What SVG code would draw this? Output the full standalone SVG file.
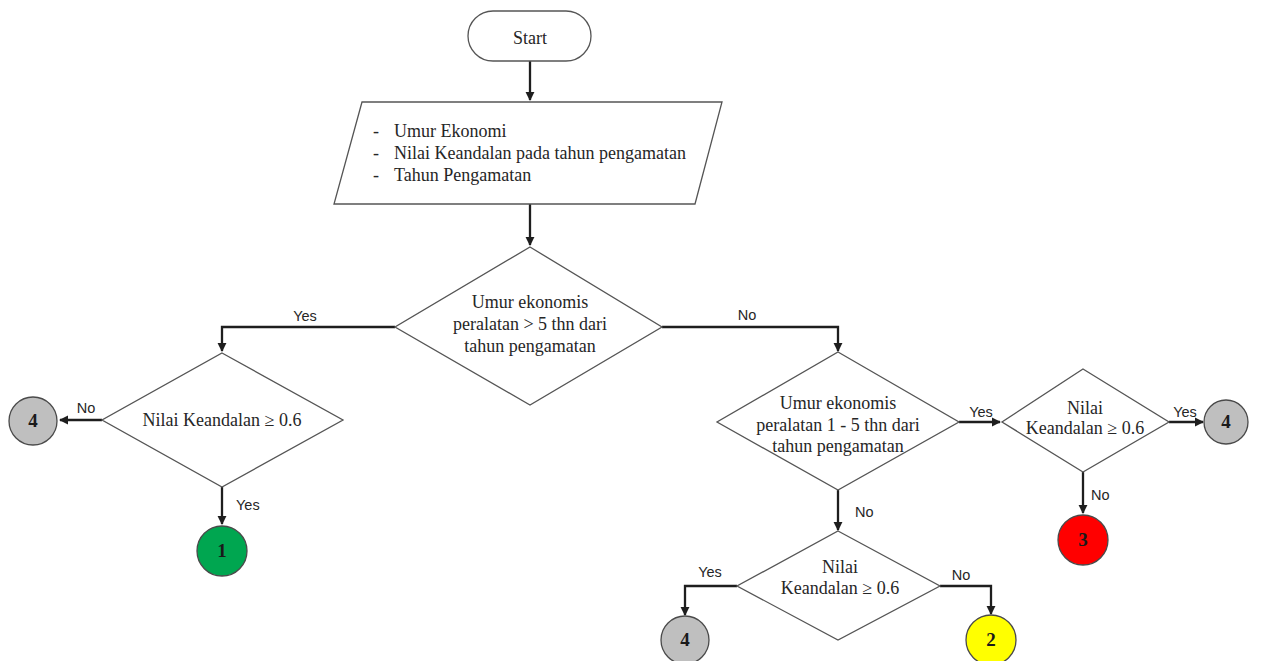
<svg xmlns="http://www.w3.org/2000/svg" width="1265" height="661" viewBox="0 0 1265 661">
  <style>
    .shape { fill: #ffffff; stroke: #555555; stroke-width: 1.3; }
    .txt { font-family: "Liberation Serif", "Times New Roman", serif; font-size: 18px; fill: #262626; }
    .mid { text-anchor: middle; }
    .lbl { font-family: "Liberation Sans", Arial, sans-serif; font-size: 14.5px; fill: #262626; }
    .conn { fill: none; stroke: #1e1e1e; stroke-width: 2.3; }
    .circ { stroke: #4a4a4a; stroke-width: 1.3; }
    .num { font-family: "Liberation Serif", "Times New Roman", serif; font-size: 19px; font-weight: bold; fill: #1a1a1a; text-anchor: middle; }
  </style>
  <defs>
    <marker id="arrow" viewBox="0 0 10 10" refX="9" refY="5" markerWidth="4" markerHeight="4" markerUnits="strokeWidth" orient="auto">
      <path d="M0,0 L10,5 L0,10 z" fill="#1e1e1e"/>
    </marker>
  </defs>
  <rect width="1265" height="661" fill="#ffffff"/>

  <!-- connectors -->
  <g id="connectors">
    <path class="conn" d="M530,61 V100" marker-end="url(#arrow)"/>
    <path class="conn" d="M530,204 V245" marker-end="url(#arrow)"/>
    <path class="conn" d="M395,327 H222 V351" marker-end="url(#arrow)"/>
    <path class="conn" d="M662,327 H838 V351" marker-end="url(#arrow)"/>
    <path class="conn" d="M102,420 H60" marker-end="url(#arrow)"/>
    <path class="conn" d="M222,487 V524" marker-end="url(#arrow)"/>
    <path class="conn" d="M959,422 H1000" marker-end="url(#arrow)"/>
    <path class="conn" d="M1169,422 H1203" marker-end="url(#arrow)"/>
    <path class="conn" d="M1083,472 V513" marker-end="url(#arrow)"/>
    <path class="conn" d="M838,490 V530" marker-end="url(#arrow)"/>
    <path class="conn" d="M737,586 H685 V615" marker-end="url(#arrow)"/>
    <path class="conn" d="M940,586 H991 V614" marker-end="url(#arrow)"/>
    <text class="lbl mid" x="305" y="321">Yes</text>
    <text class="lbl mid" x="747" y="320">No</text>
    <text class="lbl mid" x="86" y="413">No</text>
    <text class="lbl" x="236" y="510">Yes</text>
    <text class="lbl mid" x="981" y="417">Yes</text>
    <text class="lbl mid" x="1185" y="417">Yes</text>
    <text class="lbl" x="1091" y="500">No</text>
    <text class="lbl" x="855" y="517">No</text>
    <text class="lbl mid" x="710" y="577">Yes</text>
    <text class="lbl mid" x="961" y="580">No</text>
  </g>

  <!-- start terminal -->
  <g id="start">
    <rect class="shape" x="468" y="11" width="123" height="50" rx="25" ry="25"/>
    <text class="txt mid" x="530" y="44">Start</text>
  </g>

  <!-- input data -->
  <g id="input">
    <polygon class="shape" points="362,102 722,102 695,204 334,204"/>
    <text class="txt" x="373" y="137">-</text>
    <text class="txt" x="394" y="137">Umur Ekonomi</text>
    <text class="txt" x="373" y="159">-</text>
    <text class="txt" x="394" y="159">Nilai Keandalan pada tahun pengamatan</text>
    <text class="txt" x="373" y="181">-</text>
    <text class="txt" x="394" y="181">Tahun Pengamatan</text>
  </g>

  <!-- decision: age > 5 years -->
  <g id="decision-age-gt5">
    <polygon class="shape" points="530,247 662,327 530,405 395,327"/>
    <text class="txt mid" x="530" y="308">Umur ekonomis</text>
    <text class="txt mid" x="530" y="330">peralatan &gt; 5 thn dari</text>
    <text class="txt mid" x="530" y="352">tahun pengamatan</text>
  </g>

  <!-- decision: reliability (left branch) -->
  <g id="decision-rel-left">
    <polygon class="shape" points="222,353 343,420 222,487 102,420"/>
    <text class="txt mid" x="222" y="426">Nilai Keandalan ≥ 0.6</text>
  </g>

  <!-- decision: age 1-5 years -->
  <g id="decision-age-1to5">
    <polygon class="shape" points="838,352 959,422 838,490 717,422"/>
    <text class="txt mid" x="838" y="409">Umur ekonomis</text>
    <text class="txt mid" x="838" y="431">peralatan 1 - 5 thn dari</text>
    <text class="txt mid" x="838" y="452">tahun pengamatan</text>
  </g>

  <!-- decision: reliability (right branch) -->
  <g id="decision-rel-right">
    <polygon class="shape" points="1083,369 1169,422 1083,472 1002,422"/>
    <text class="txt mid" x="1085" y="414">Nilai</text>
    <text class="txt mid" x="1085" y="434">Keandalan ≥ 0.6</text>
  </g>

  <!-- decision: reliability (bottom branch) -->
  <g id="decision-rel-bottom">
    <polygon class="shape" points="838,531 940,586 838,640 737,586"/>
    <text class="txt mid" x="840" y="573">Nilai</text>
    <text class="txt mid" x="840" y="594">Keandalan ≥ 0.6</text>
  </g>

  <!-- outcome connectors -->
  <g id="out-4-left">
    <circle class="circ" cx="33" cy="421" r="24" fill="#bfbfbf"/>
    <text class="num" x="33" y="427">4</text>
  </g>
  <g id="out-1">
    <circle class="circ" cx="222" cy="551" r="25" fill="#00a650"/>
    <text class="num" x="222" y="557">1</text>
  </g>
  <g id="out-4-right">
    <circle class="circ" cx="1226" cy="422" r="22" fill="#bfbfbf"/>
    <text class="num" x="1226" y="428">4</text>
  </g>
  <g id="out-3">
    <circle class="circ" cx="1083" cy="540" r="25" fill="#ff0000"/>
    <text class="num" x="1083" y="546">3</text>
  </g>
  <g id="out-4-bottom">
    <circle class="circ" cx="685" cy="640" r="24" fill="#bfbfbf"/>
    <text class="num" x="685" y="646">4</text>
  </g>
  <g id="out-2">
    <circle class="circ" cx="991" cy="640" r="25" fill="#ffff00"/>
    <text class="num" x="991" y="646">2</text>
  </g>
</svg>
